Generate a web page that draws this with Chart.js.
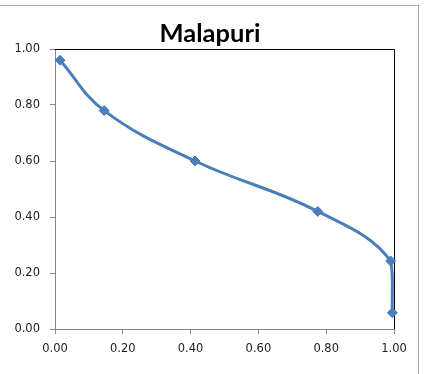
<!DOCTYPE html>
<html>
<head>
<meta charset="utf-8">
<script src="https://cdn.jsdelivr.net/npm/chart.js@4/dist/chart.umd.min.js"></script>
<style>
  html, body { margin: 0; padding: 0; background: #fff; }
  #wrap { position: relative; width: 428px; height: 374px; }
  #frame { position: absolute; left: -2px; top: 5px; width: 420px; height: 380px;
           border-top: 1px solid #a8a8a8; border-right: 1px solid #a8a8a8; }
  canvas { position: absolute; left: 0; top: 0; }
</style>
</head>
<body>
<div id="wrap">
  <div id="frame"></div>
  <canvas id="chart" width="428" height="374"></canvas>
</div>
<script>
// Malapuri - valeurs
var chartTitle = 'Malapuri';
var xValues = [0.015, 0.145, 0.413, 0.775, 0.99, 0.995];
var yValues = [0.96, 0.78, 0.60, 0.42, 0.243, 0.058];
var tickValues = [0, 0.2, 0.4, 0.6, 0.8, 1.0];

var points = [];
for (var i = 0; i < xValues.length; i++) {
    points.push({ x: xValues[i], y: yValues[i] });
}

var axisGrey = '#868686';
var labelFont = { family: 'DejaVu Sans', size: 11.5 };

// lignes noires en haut et a droite + titre
var boxLines = {
    id: 'boxLines',
    beforeDatasetsDraw: function (chart) {
        var a = chart.chartArea, c = chart.ctx;
        c.save();
        c.strokeStyle = '#000';
        c.lineWidth = 1;
        c.beginPath();
        c.moveTo(a.left, a.top + 0.5);
        c.lineTo(a.right + 0.5, a.top + 0.5);
        c.lineTo(a.right + 0.5, a.bottom);
        c.stroke();
        c.restore();
    },
    afterDraw: function (chart) {
        var c = chart.ctx;
        c.save();
        c.fillStyle = '#000';
        c.font = 'bold 25.5px Lato';
        c.textAlign = 'center';
        c.textBaseline = 'alphabetic';
        c.fillText(chartTitle, 210, 42);
        c.restore();
    }
};

var scaleOpts = function (pos) {
    return {
        type: 'linear',
        position: pos,
        min: 0,
        max: 1,
        afterBuildTicks: function (scale) {
            scale.ticks = tickValues.map(function (v) { return { value: v }; });
        },
        afterFit: function (scale) {
            if (pos === 'left') scale.width = 55;
            else scale.height = 45;
        },
        grid: { display: true, drawOnChartArea: false, drawTicks: true, tickLength: 5, color: axisGrey },
        border: { display: true, color: axisGrey, width: 1 },
        ticks: {
            color: '#222',
            font: labelFont,
            padding: pos === 'left' ? 10 : 8,
            maxRotation: 0,
            callback: function (v) { return Number(v).toFixed(2); }
        }
    };
};

new Chart(document.getElementById('chart'), {
    type: 'scatter',
    data: {
        datasets: [{
            data: points,
            showLine: true,
            tension: 0.4,
            borderColor: '#4a7ebb',
            backgroundColor: '#4a7ebb',
            borderWidth: 3,
            pointStyle: 'rectRot',
            pointRadius: 5,
            pointBorderWidth: 1,
            clip: false
        }]
    },
    options: {
        responsive: false,
        animation: false,
        events: [],
        layout: { padding: { left: 0, right: 34, top: 49, bottom: 0 } },
        plugins: {
            legend: { display: false },
            tooltip: { enabled: false },
            title: { display: false }
        },
        scales: {
            x: scaleOpts('bottom'),
            y: scaleOpts('left')
        }
    },
    plugins: [boxLines]
});
</script>
</body>
</html>
